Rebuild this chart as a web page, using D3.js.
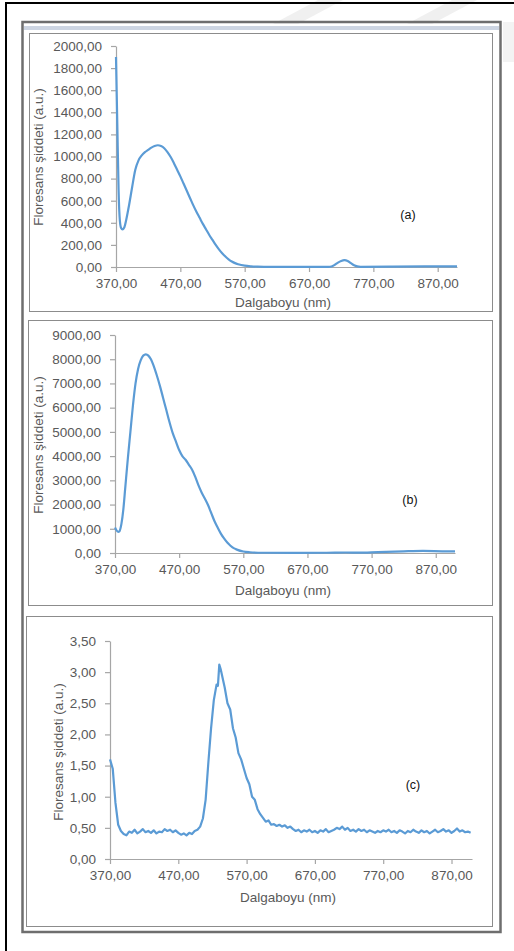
<!DOCTYPE html>
<html><head><meta charset="utf-8">
<script src="https://cdn.jsdelivr.net/npm/d3@7"></script>
<style>
html,body{margin:0;padding:0;background:#fff;}
svg{display:block;}
text{font-family:"Liberation Sans",Arial,sans-serif;}
</style></head>
<body>
<script>
// ---------- DATA ----------
const xTicks = [370, 470, 570, 670, 770, 870];
const yTicksA = [0,200,400,600,800,1000,1200,1400,1600,1800,2000];
const yTicksB = [0,1000,2000,3000,4000,5000,6000,7000,8000,9000];
const yTicksC = [0,0.5,1,1.5,2,2.5,3,3.5];

// panel (a): [wavelength nm, intensity]
const seriesA = [
 [370,1900],[372,1300],[374,700],[376,420],[378,352],[380,340],[383,360],[386,430],[390,550],[395,720],
 [400,880],[405,965],[410,1010],[415,1040],[420,1060],[425,1080],[430,1095],[435,1102],[440,1095],[445,1075],
 [450,1040],[455,995],[460,940],[465,880],[470,820],[475,755],[480,690],[485,625],[490,560],[495,500],
 [500,445],[505,390],[510,340],[515,290],[520,245],[525,200],[530,160],[535,125],[540,95],[545,70],
 [550,50],[555,35],[560,25],[570,12],[580,6],[590,3],[600,2],[650,1],[700,1],[705,5],
 [710,20],[715,40],[720,55],[725,62],[730,55],[735,35],[740,15],[745,5],[750,2],[800,3],[850,5],[900,5]
];
// panel (b)
const seriesB = [
 [370,1050],[372,950],[375,870],[377,900],[380,1200],[383,1800],[386,2700],[390,3900],[394,5000],[398,6100],
 [402,7000],[406,7600],[410,7950],[414,8150],[418,8200],[422,8150],[426,8000],[430,7750],[435,7350],[440,6900],
 [445,6400],[450,5900],[455,5400],[460,4950],[465,4600],[470,4250],[475,4000],[480,3850],[485,3650],[490,3450],
 [495,3150],[500,2800],[505,2500],[510,2250],[515,1980],[520,1650],[525,1320],[530,1050],[535,800],[540,600],
 [545,430],[550,300],[555,200],[560,140],[570,60],[580,30],[600,10],[650,5],[700,10],[730,20],
 [750,15],[780,40],[820,70],[850,85],[880,70],[900,65]
];
// panel (c)
const seriesC = [
 [370,1.60],[374,1.45],[378,0.90],[382,0.55],[386,0.45],[390,0.40],[394,0.38],[398,0.44],[402,0.42],[406,0.47],
 [410,0.41],[414,0.44],[418,0.48],[422,0.43],[426,0.45],[430,0.42],[434,0.46],[438,0.41],[442,0.44],[446,0.43],
 [450,0.48],[454,0.45],[458,0.47],[462,0.43],[466,0.46],[470,0.42],[474,0.39],[478,0.41],[482,0.38],[486,0.42],
 [490,0.40],[494,0.45],[498,0.47],[502,0.52],[506,0.65],[510,0.95],[514,1.55],[518,2.10],[522,2.55],[526,2.80],
 [528,2.78],[530,3.12],[532,3.05],[534,2.95],[538,2.75],[542,2.50],[546,2.40],[550,2.10],[554,1.95],[558,1.70],
 [562,1.60],[566,1.45],[570,1.30],[574,1.20],[578,1.00],[582,0.95],[586,0.80],[590,0.72],[594,0.66],[598,0.60],
 [602,0.62],[606,0.55],[610,0.56],[614,0.53],[618,0.55],[622,0.52],[626,0.54],[630,0.50],[634,0.52],[638,0.48],
 [642,0.45],[646,0.47],[650,0.43],[654,0.46],[658,0.44],[662,0.47],[666,0.43],[670,0.45],[674,0.42],[678,0.46],
 [682,0.44],[686,0.48],[690,0.43],[694,0.45],[698,0.47],[702,0.50],[706,0.48],[710,0.52],[714,0.47],[718,0.50],
 [722,0.45],[726,0.47],[730,0.44],[734,0.48],[738,0.45],[742,0.47],[746,0.43],[750,0.46],[754,0.44],[758,0.42],
 [762,0.45],[766,0.43],[770,0.46],[774,0.44],[778,0.47],[782,0.43],[786,0.45],[790,0.42],[794,0.46],[798,0.44],
 [802,0.41],[806,0.45],[810,0.43],[814,0.47],[818,0.44],[822,0.42],[826,0.46],[830,0.43],[834,0.45],[838,0.41],
 [842,0.44],[846,0.47],[850,0.43],[854,0.45],[858,0.48],[862,0.44],[866,0.46],[870,0.42],[874,0.45],[878,0.49],
 [882,0.44],[886,0.46],[890,0.43],[894,0.44],[898,0.42]
];
const panelLabels = ["(a)","(b)","(c)"];
const yTitle = "Floresans şiddeti (a.u.)";
const xTitle = "Dalgaboyu (nm)";

// ---------- DRAW ----------
const W = 514, H = 951;
const svg = d3.select("body").append("svg").attr("width", W).attr("height", H);

// faint watermark stripes
svg.append("polygon").attr("points","318,0 343,0 298,24 273,24").attr("fill","#f0f0f0");
svg.append("polygon").attr("points","452,0 477,0 432,24 407,24").attr("fill","#f0f0f0");
svg.append("rect").attr("x",503).attr("y",22).attr("width",11).attr("height",40).attr("fill","#f3f3f3");

// page border (black)
svg.append("rect").attr("x",5).attr("y",2).attr("width",2).attr("height",H).attr("fill","#000");
svg.append("rect").attr("x",5).attr("y",2).attr("width",W-5).attr("height",2).attr("fill","#000");

// outer gray frame
svg.append("rect").attr("x",22.5).attr("y",22).attr("width",478).attr("height",910)
  .attr("fill","none").attr("stroke","#6e6e6e").attr("stroke-width",2.5);
svg.append("rect").attr("x",24).attr("y",26).attr("width",475).attr("height",4).attr("fill","#cdd5e2");

const fmt = v => d3.format(".2f")(v).replace(".", ",");
const axisColor = "#a6a6a6", textColor = "#595959", lineColor = "#5b9bd5";

const panels = [
  {frame:[29,33,463,278], data:seriesA, yTicks:yTicksA, yMax:2000, xr:[116,457], yr:[267,46],
   ylab:[38,157], xlab:[283,307], tag:[408,219], curve:d3.curveMonotoneX},
  {frame:[28,320,464,285], data:seriesB, yTicks:yTicksB, yMax:9000, xr:[115,455], yr:[553,335],
   ylab:[38,445], xlab:[283,595], tag:[410,504], curve:d3.curveMonotoneX},
  {frame:[26,616,466,310], data:seriesC, yTicks:yTicksC, yMax:3.5, xr:[110,472], yr:[859,641],
   ylab:[58,752], xlab:[288,902], tag:[413,789], curve:d3.curveLinear}
];

panels.forEach((p, i) => {
  svg.append("rect").attr("x",p.frame[0]+0.5).attr("y",p.frame[1]+0.5)
    .attr("width",p.frame[2]).attr("height",p.frame[3])
    .attr("fill","#fff").attr("stroke","#8c8c8c").attr("stroke-width",1);

  const x = d3.scaleLinear().domain([370, 900]).range(p.xr);
  const y = d3.scaleLinear().domain([0, p.yMax]).range(p.yr);

  const gx = svg.append("g").attr("transform",`translate(0,${p.yr[0]})`)
    .call(d3.axisBottom(x).tickValues(xTicks).tickFormat(fmt).tickSizeInner(5).tickSizeOuter(0).tickPadding(6));
  const gy = svg.append("g").attr("transform",`translate(${p.xr[0]},0)`)
    .call(d3.axisLeft(y).tickValues(p.yTicks).tickFormat(fmt).tickSizeInner(5).tickSizeOuter(0).tickPadding(9));
  [gx, gy].forEach(g => {
    g.select(".domain").attr("stroke", axisColor).attr("stroke-width",1.2);
    g.selectAll(".tick line").attr("stroke", axisColor).attr("stroke-width",1.2);
    g.selectAll(".tick text").attr("fill", textColor).attr("font-size","13.5px")
      .attr("font-family",'"Liberation Sans",Arial,sans-serif');
  });

  svg.append("path").datum(p.data)
    .attr("fill","none").attr("stroke",lineColor).attr("stroke-width",2.2)
    .attr("stroke-linejoin","round")
    .attr("d", d3.line().x(d => x(d[0])).y(d => y(d[1])).curve(p.curve));

  svg.append("text").attr("transform",`translate(${p.ylab[0]},${p.ylab[1]}) rotate(-90)`)
    .attr("text-anchor","middle").attr("dy","0.35em").attr("fill",textColor)
    .attr("font-size","13.5px").text(yTitle);
  svg.append("text").attr("x",p.xlab[0]).attr("y",p.xlab[1])
    .attr("text-anchor","middle").attr("fill",textColor)
    .attr("font-size","13.5px").text(xTitle);
  svg.append("text").attr("x",p.tag[0]).attr("y",p.tag[1])
    .attr("text-anchor","middle").attr("fill","#111")
    .attr("font-size","12.5px").attr("font-family",'"Open Sans",sans-serif').text(panelLabels[i]);
});
</script>
</body></html>
